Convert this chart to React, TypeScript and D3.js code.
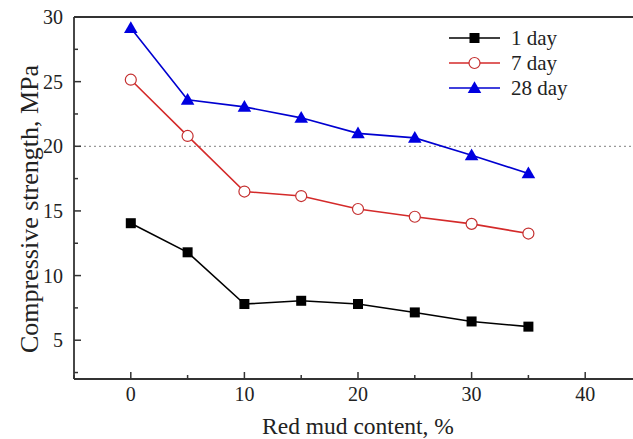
import React from "react";
import * as d3 from "d3";

const contents = [0, 5, 10, 15, 20, 25, 30, 35];
const day1 = [14.05, 11.8, 7.8, 8.05, 7.8, 7.15, 6.45, 6.05];
const day7 = [25.15, 20.8, 16.5, 16.15, 15.15, 14.55, 14.0, 13.25];
const day28 = [29.15, 23.6, 23.05, 22.2, 21.0, 20.65, 19.3, 17.9];
const seriesNames = ["1 day", "7 day", "28 day"];
const xTicks = [0, 10, 20, 30, 40];
const xMinor = [-5, 5, 15, 25, 35, 45];
const yTicks = [5, 10, 15, 20, 25, 30];
const yMinor = [2.5, 7.5, 12.5, 17.5, 22.5, 27.5];
const refLine = 20;

const W = 633, H = 439;
const left = 74, top = 17, bottom = 379, right = 642;

export default function App() {
  const x = d3.scaleLinear().domain([-5, 45]).range([left, right]);
  const y = d3.scaleLinear().domain([2, 30]).range([bottom, top]);
  const line = d3.line<[number, number]>().x(d => x(d[0])).y(d => y(d[1]));
  const series = [
    { name: seriesNames[0], data: day1, color: "#000000" },
    { name: seriesNames[1], data: day7, color: "#d42a2a" },
    { name: seriesNames[2], data: day28, color: "#0000d0" },
  ];
  const tri = d3.symbol().type(d3.symbolTriangle).size(80)() as string;
  const marker = (i: number, cx: number, cy: number, key: string) => {
    if (i === 0) return <rect key={key} x={cx - 5} y={cy - 5} width={10} height={10} fill="#000" />;
    if (i === 1) return <circle key={key} cx={cx} cy={cy} r={5.5} fill="#fff" stroke="#c43030" strokeWidth={1.2} />;
    return <path key={key} d={tri} transform={`translate(${cx},${cy + 1})`} fill="#0000e0" />;
  };
  const font = "\"Liberation Serif\", Tinos, \"Times New Roman\", \"DejaVu Serif\", serif";
  const ts = { fontFamily: font };
  const axisColor = "#333";
  return (
    <svg width={W} height={H} style={{ position: "absolute", left: 0, top: 0, background: "#fff", fontFamily: font }}>
      <rect x={0} y={0} width={W} height={H} fill="#fff" />
      <line x1={x(-5)} x2={x(45)} y1={y(refLine)} y2={y(refLine)} stroke="#999" strokeWidth={1.2} strokeDasharray="2,3" />
      {series.map((s, i) => (
        <path key={s.name} d={line(contents.map((c, j) => [c, s.data[j]]) as [number, number][]) || ""} fill="none" stroke={s.color} strokeWidth={1.6} />
      ))}
      {series.map((s, i) => contents.map((c, j) => marker(i, x(c), y(s.data[j]), `${i}-${j}`)))}
      <line x1={left} x2={right} y1={top} y2={top} stroke={axisColor} strokeWidth={1.8} />
      <line x1={left} x2={right} y1={bottom} y2={bottom} stroke={axisColor} strokeWidth={1.8} />
      <line x1={left} x2={left} y1={top} y2={bottom} stroke={axisColor} strokeWidth={1.8} />
      {xTicks.map(t => (
        <g key={"xt" + t}>
          <line x1={x(t)} x2={x(t)} y1={bottom} y2={bottom - 7} stroke={axisColor} strokeWidth={1.5} />
          <text style={ts} x={x(t)} y={401} textAnchor="middle" fontSize={20} fill="#222">{t}</text>
        </g>
      ))}
      {xMinor.map(t => (
        <line key={"xm" + t} x1={x(t)} x2={x(t)} y1={bottom} y2={bottom - 4} stroke={axisColor} strokeWidth={1.5} />
      ))}
      {yTicks.map(t => (
        <g key={"yt" + t}>
          <line x1={left} x2={left + 7} y1={y(t)} y2={y(t)} stroke={axisColor} strokeWidth={1.5} />
          <text style={ts} x={63} y={y(t) + 7} textAnchor="end" fontSize={20} fill="#222">{t}</text>
        </g>
      ))}
      {yMinor.map(t => (
        <line key={"ym" + t} x1={left} x2={left + 4} y1={y(t)} y2={y(t)} stroke={axisColor} strokeWidth={1.5} />
      ))}
      <text style={ts} x={358} y={434} textAnchor="middle" fontSize={23.5} fill="#222">Red mud content, %</text>
      <text style={ts} transform={`translate(38,209) rotate(-90)`} textAnchor="middle" fontSize={26} fill="#222">Compressive strength, MPa</text>
      {series.map((s, i) => {
        const ly = 38 + i * 25;
        return (
          <g key={"lg" + i}>
            <line x1={449} x2={500} y1={ly} y2={ly} stroke={s.color} strokeWidth={1.6} />
            {marker(i, 474.5, ly, "lm" + i)}
            <text style={ts} x={511} y={ly + 7} fontSize={21} fill="#222">{s.name}</text>
          </g>
        );
      })}
    </svg>
  );
}
